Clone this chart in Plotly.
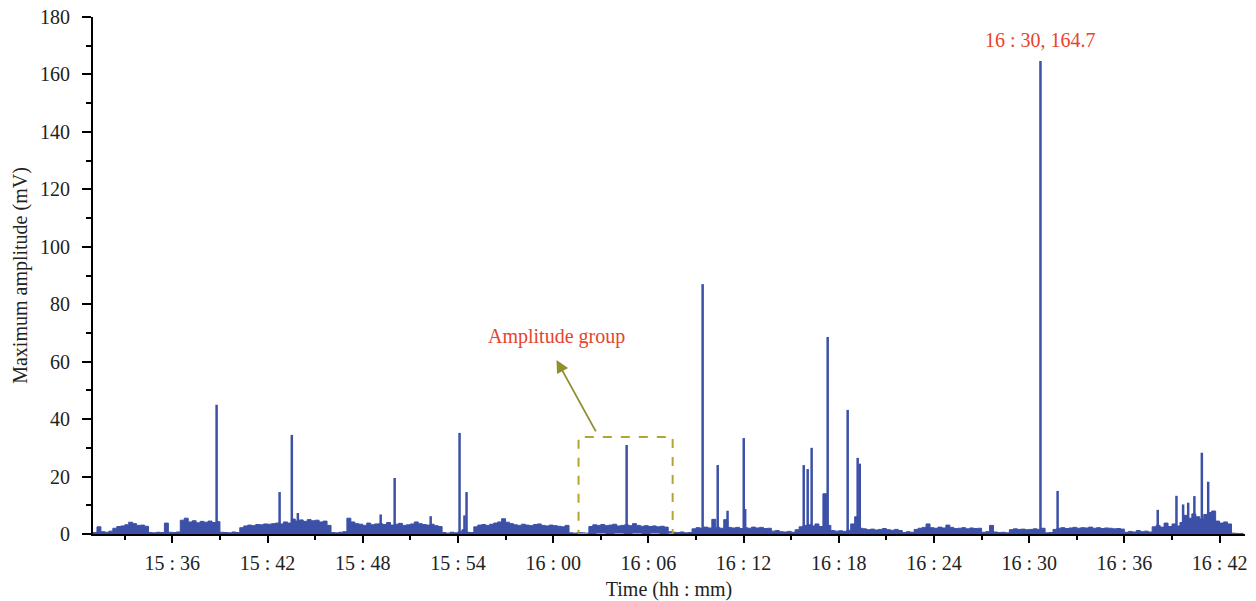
import plotly.graph_objects as go

# ---------------- data (time in minutes after 15:00) ----------------
BASE_START = 31.0          # first baseline sample (15:31)
BASE_STEP = 0.25           # sample spacing, minutes
BASE_VALUES = [
    0.5, 2.5,
    0.8, 0.6, 1.0,
    2.0, 2.6, 2.8, 3.2, 4.1, 3.6, 3.0, 3.1, 2.7,
    0.5, 0.4, 0.6, 0.5,
    3.8,
    0.6, 0.5, 0.7,
    4.8, 5.5, 4.2, 4.6, 3.9, 4.4, 4.1, 4.5, 4.0, 4.3,
    0.6, 0.5, 0.4, 0.7, 0.5,
    2.2, 2.8, 3.1, 2.9, 3.3, 3.2, 3.5, 3.4, 3.6, 3.8, 3.5,
    4.2, 3.8, 5.2, 4.5, 4.9, 4.4, 5.0, 4.6, 4.8, 4.2, 4.5, 3.0,
    0.5, 0.4, 0.6, 0.8,
    5.5, 4.2, 3.6, 3.4, 3.0, 3.8, 3.2, 3.5, 3.6, 3.3, 4.0, 3.1,
    3.4, 3.7, 3.0, 3.2, 3.5, 4.2, 3.6, 3.3, 3.1, 3.4, 2.9, 2.6,
    0.5, 0.3, 0.6, 0.4,
    0.8, 1.5, 0.6, 0.5,
    2.5, 3.1, 3.3, 3.0, 3.4, 3.8, 4.2, 5.3, 4.1, 3.6, 3.2, 3.0,
    3.4, 3.1, 2.9, 3.3, 3.5, 3.0, 2.8, 3.1, 2.9, 2.7, 2.5,
    3.0, 0.4, 0.3, 0.5, 0.4, 0.3,
    2.6, 3.2, 3.0, 3.3, 2.9, 3.1, 3.4, 2.8, 3.0, 3.2, 2.9, 3.6,
    3.0, 2.7, 2.9, 2.6, 2.8, 2.5, 2.7, 2.4,
    0.8, 0.6, 0.5, 0.7, 0.4, 0.5,
    1.8, 2.2, 2.0, 2.4, 2.1, 5.1, 2.3, 2.0, 5.0, 2.3, 2.1, 2.3,
    1.9, 2.2, 2.0, 2.4, 2.1, 2.3, 1.9, 2.0,
    1.0, 1.2, 0.8, 0.7, 0.9, 0.6,
    1.5, 2.5, 3.0, 3.2, 2.8, 3.5, 2.6,
    14.0,
    3.0,
    1.2, 1.0, 1.1, 0.9,
    1.3, 3.5, 6.0,
    2.0, 1.8, 1.5, 1.7, 1.4, 1.6, 1.9, 1.5, 1.3, 1.6, 1.2,
    0.5, 0.8, 0.6,
    1.6, 2.0, 2.3, 3.5, 2.2, 2.0, 2.4, 2.1, 3.1, 2.3, 1.9, 2.0,
    2.2, 1.8, 2.1, 1.9, 2.0,
    0.6, 0.8, 3.0, 0.7, 0.5, 0.6, 0.4,
    1.5, 1.8, 1.6, 1.7, 1.5, 1.6, 1.8, 1.6, 2.0,
    0.4, 0.5,
    1.6, 2.0, 2.2, 1.9, 2.1, 2.3, 2.0, 2.2, 2.1, 2.4, 2.0, 2.2,
    1.9, 2.1, 2.0, 1.8, 1.9, 1.7,
    0.6, 0.9, 0.7, 1.2, 0.8, 1.0, 0.7,
    2.5, 3.0, 2.4, 3.8, 2.6, 3.5, 2.8, 4.0, 6.5, 5.5, 7.0, 6.0,
    5.2, 6.8, 7.5, 8.0, 4.5, 3.8, 4.2, 3.5,
    0.3, 0.2, 0.2, 0.2,
]

SPIKE_TIMES = [38.79, 42.76, 43.53, 43.91, 49.13, 50.01, 52.28, 54.10, 54.41,
               54.54, 64.63, 69.42, 70.37, 70.99, 72.01, 72.10, 75.79, 76.04,
               76.29, 77.30, 78.56, 79.19, 79.32, 90.71, 91.79, 98.10, 99.28,
               99.70, 100.02, 100.41, 100.88, 101.28]
SPIKE_AMPS = [45.0, 14.6, 34.5, 7.3, 6.8, 19.5, 6.2, 35.2, 6.5,
              14.6, 31.0, 87.0, 24.0, 8.1, 33.4, 8.7, 24.0, 22.6,
              30.0, 68.6, 43.2, 26.5, 24.5, 164.7, 15.0, 8.4, 13.3,
              10.3, 10.9, 13.2, 28.3, 18.2]

X_TICKS = [36, 42, 48, 54, 60, 66, 72, 78, 84, 90, 96, 102]
X_TICK_TEXT = ["15 : 36", "15 : 42", "15 : 48", "15 : 54", "16 : 00", "16 : 06",
               "16 : 12", "16 : 18", "16 : 24", "16 : 30", "16 : 36", "16 : 42"]
X_MINOR = [33, 39, 45, 51, 57, 63, 69, 75, 81, 87, 93, 99]

PEAK_LABEL = "16 : 30, 164.7"
GROUP_LABEL = "Amplitude group"
GROUP_BOX = (61.6, 67.53, 0.0, 33.8)     # x0, x1, y0, y1
ARROW_HEAD = (60.21, 60.6)
ARROW_TAIL = (62.74, 35.2)

# ---------------- figure ----------------
BLUE = "#3c50a8"
RED = "#e8432d"
OLIVE = "#8f8f2e"
BOX = "#b2a632"
FONT = "Liberation Serif"

base_x = [BASE_START + BASE_STEP * i for i in range(len(BASE_VALUES))]

spk_x, spk_y = [], []
for t, a in zip(SPIKE_TIMES, SPIKE_AMPS):
    spk_x += [t, t, None]
    spk_y += [0, a, None]

fig = go.Figure()
fig.add_trace(go.Scatter(x=base_x, y=BASE_VALUES, mode="lines", line_shape="hv",
                         line=dict(color=BLUE, width=1), fill="tozeroy",
                         fillcolor=BLUE, hoverinfo="skip", showlegend=False))
fig.add_trace(go.Scatter(x=spk_x, y=spk_y, mode="lines",
                         line=dict(color=BLUE, width=2.5), showlegend=False))

fig.add_shape(type="rect", xref="x", yref="y",
              x0=GROUP_BOX[0], x1=GROUP_BOX[1], y0=GROUP_BOX[2], y1=GROUP_BOX[3],
              line=dict(color=BOX, width=2, dash="dash"), fillcolor="rgba(0,0,0,0)")

fig.add_annotation(x=ARROW_HEAD[0], y=ARROW_HEAD[1], ax=ARROW_TAIL[0], ay=ARROW_TAIL[1],
                   xref="x", yref="y", axref="x", ayref="y", text="",
                   showarrow=True, arrowhead=2, arrowsize=1.4, arrowwidth=1.8,
                   arrowcolor=OLIVE)
fig.add_annotation(x=60.22, y=68.9, xref="x", yref="y", text=GROUP_LABEL,
                   showarrow=False, font=dict(family=FONT, size=20, color=RED))
fig.add_annotation(x=90.71, y=172.0, xref="x", yref="y", text=PEAK_LABEL,
                   showarrow=False, font=dict(family=FONT, size=20, color=RED))

fig.update_layout(
    width=1256, height=601,
    margin=dict(l=93, r=11, t=17, b=67),
    paper_bgcolor="white", plot_bgcolor="white",
    font=dict(family=FONT, size=20, color="#222"),
    showlegend=False,
    xaxis=dict(range=[31.0, 103.6], tickmode="array", tickvals=X_TICKS,
               ticktext=X_TICK_TEXT, showgrid=False, zeroline=False,
               automargin=False,
               showline=True, linecolor="black", linewidth=2,
               ticks="outside", ticklen=7, tickwidth=2, tickcolor="black",
               ticklabelstandoff=3,
               minor=dict(tickmode="array", tickvals=X_MINOR, ticks="outside",
                          ticklen=4, tickwidth=2, tickcolor="black"),
               title=dict(text="Time (hh : mm)", standoff=10,
                          font=dict(family=FONT, size=20))),
    yaxis=dict(range=[0, 180], tickmode="linear", tick0=0, dtick=20,
               showgrid=False, zeroline=False, automargin=False,
               showline=True, linecolor="black", linewidth=2,
               ticks="outside", ticklen=9, tickwidth=2, tickcolor="black",
               ticklabelstandoff=8,
               minor=dict(tickmode="linear", tick0=0, dtick=10, ticks="outside",
                          ticklen=5, tickwidth=2, tickcolor="black"),
               title=dict(text="Maximum amplitude (mV)", standoff=7,
                          font=dict(family=FONT, size=20))),
)

fig.write_html("out.html")
